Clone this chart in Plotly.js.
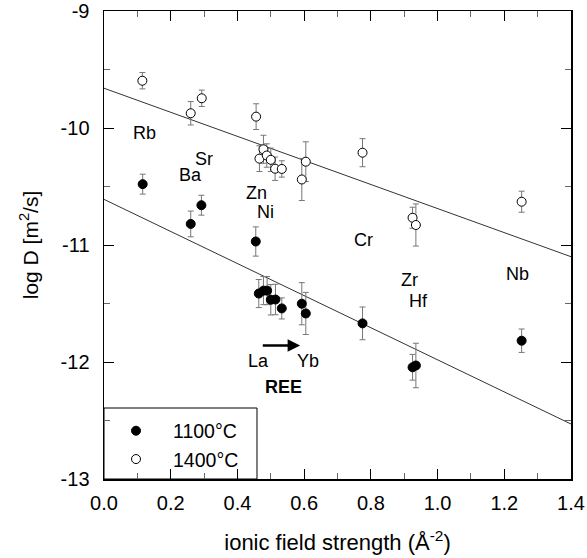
<!DOCTYPE html>
<html>
<head>
<meta charset="utf-8">
<script src="https://cdn.plot.ly/plotly-3.0.1.min.js"></script>
<style>html,body{margin:0;padding:0;background:#fff;}#chart{width:587px;height:558px;}</style>
</head>
<body>
<div id="chart"></div>
<script>
// 1100 °C (filled symbols)
const x1100 = [0.116, 0.260, 0.292, 0.455, 0.464, 0.478, 0.489, 0.500, 0.514, 0.533, 0.593, 0.605, 0.775, 0.925, 0.935, 1.252];
const y1100 = [-10.48, -10.82, -10.66, -10.97, -11.415, -11.39, -11.39, -11.468, -11.466, -11.542, -11.502, -11.585, -11.67, -12.045, -12.03, -11.818];
const e1100 = [0.085, 0.11, 0.085, 0.125, 0.12, 0.12, 0.12, 0.13, 0.13, 0.09, 0.18, 0.18, 0.14, 0.11, 0.19, 0.10];
// 1400 °C (open symbols)
const x1400 = [0.115, 0.260, 0.293, 0.456, 0.466, 0.478, 0.488, 0.500, 0.513, 0.533, 0.593, 0.605, 0.775, 0.925, 0.935, 1.252];
const y1400 = [-9.596, -9.874, -9.746, -9.903, -10.262, -10.182, -10.235, -10.272, -10.348, -10.35, -10.44, -10.288, -10.211, -10.767, -10.829, -10.63];
const e1400 = [0.07, 0.10, 0.07, 0.11, 0.11, 0.12, 0.10, 0.10, 0.10, 0.07, 0.18, 0.17, 0.12, 0.09, 0.18, 0.09];
// regression lines
const fitX = [0, 1.4];
const fit1100 = [-10.61, -12.53];
const fit1400 = [-9.66, -11.10];
// axis ticks
const xTickVals = [0, 0.2, 0.4, 0.6, 0.8, 1.0, 1.2, 1.4];
const xTickText = ['0.0', '0.2', '0.4', '0.6', '0.8', '1.0', '1.2', '1.4'];
const yTickVals = [-13, -12, -11, -10, -9];
const yTickText = ['-13', '-12', '-11', '-10', '-9'];
// element labels
const labelText = ['Rb', 'Sr', 'Ba', 'Zn', 'Ni', 'Cr', 'Zr', 'Hf', 'Nb', 'La', 'Yb'];
const labelX = [0.12, 0.30, 0.26, 0.457, 0.485, 0.779, 0.916, 0.942, 1.24, 0.462, 0.611];
const labelY = [-10.04, -10.265, -10.40, -10.557, -10.718, -10.953, -11.30, -11.476, -11.25, -11.99, -11.99];
const reeText = 'REE';
const reeX = 0.539, reeY = -12.21;
const arrowFrom = [0.470, -11.86];
const arrowTo = [0.588, -11.86];

const FONT = 'Liberation Sans, Arial, sans-serif';

const traces = [
  {x: fitX, y: fit1400, mode: 'lines', line: {color: '#333', width: 1}, showlegend: false, hoverinfo: 'skip'},
  {x: fitX, y: fit1100, mode: 'lines', line: {color: '#333', width: 1}, showlegend: false, hoverinfo: 'skip'},
  {x: x1100, y: y1100, name: '1100°C', mode: 'markers', type: 'scatter',
   marker: {symbol: 'circle', size: 9, color: '#000', line: {color: '#000', width: 1}},
   error_y: {type: 'data', array: e1100, visible: true, color: '#777', thickness: 1, width: 3}},
  {x: x1400, y: y1400, name: '1400°C', mode: 'markers', type: 'scatter',
   marker: {symbol: 'circle', size: 9, color: '#fff', line: {color: '#000', width: 1}},
   error_y: {type: 'data', array: e1400, visible: true, color: '#777', thickness: 1, width: 3}}
];

const annotations = labelText.map((t, i) => ({
  x: labelX[i], y: labelY[i], xref: 'x', yref: 'y', text: t, showarrow: false,
  font: {family: FONT, size: 18, color: '#000'}
}));
annotations.push({x: reeX, y: reeY, xref: 'x', yref: 'y', text: '<b>' + reeText + '</b>', showarrow: false,
  font: {family: FONT, size: 18, color: '#000'}});
annotations.push({x: arrowTo[0], y: arrowTo[1], ax: arrowFrom[0], ay: arrowFrom[1], xref: 'x', yref: 'y',
  axref: 'x', ayref: 'y', text: ' ', showarrow: true, arrowhead: 2, arrowsize: 1, arrowwidth: 2.5, arrowcolor: '#000',
  font: {size: 2}});

const layout = {
  width: 587, height: 558,
  margin: {l: 104, r: 16, t: 11, b: 79},
  paper_bgcolor: '#fff', plot_bgcolor: '#fff',
  font: {family: FONT, size: 20, color: '#000'},
  showlegend: true,
  legend: {x: -0.0107, y: 0.001, xanchor: 'left', yanchor: 'bottom', bgcolor: 'rgba(0,0,0,0)',
    borderwidth: 0, font: {family: FONT, size: 19.5}, itemwidth: 64, tracegroupgap: 0},
  xaxis: {
    range: [0, 1.4], tickmode: 'array', tickvals: xTickVals, ticktext: xTickText,
    ticks: 'inside', ticklen: 10, tickwidth: 1, tickcolor: '#000',
    minor: {dtick: 0.1, tick0: 0, ticks: 'inside', ticklen: 6, tickcolor: '#666', tickwidth: 1},
    showline: true, linecolor: '#000', linewidth: 1.5, mirror: 'allticks',
    showgrid: false, zeroline: false,
    ticklabelstandoff: 5,
    title: {text: 'ionic field strength (Å<sup>-2</sup>)', font: {family: FONT, size: 22}, standoff: 22}
  },
  yaxis: {
    range: [-13, -9], tickmode: 'array', tickvals: yTickVals, ticktext: yTickText,
    ticks: 'inside', ticklen: 10, tickwidth: 1, tickcolor: '#000',
    minor: {dtick: 0.5, tick0: -13, ticks: 'inside', ticklen: 6, tickcolor: '#666', tickwidth: 1},
    showline: true, linecolor: '#000', linewidth: 1.5, mirror: 'allticks',
    showgrid: false, zeroline: false,
    ticklabelstandoff: 9,
    title: {text: 'log D [m<sup>2</sup>/s]', font: {family: FONT, size: 21}, standoff: 16}
  },
  shapes: [
    {type: 'rect', xref: 'paper', yref: 'paper', x0: 0, x1: 0.3276, y0: 0, y1: 0.1517,
     line: {color: '#000', width: 1}, fillcolor: '#fff', layer: 'below'}
  ],
  annotations: annotations
};

Plotly.newPlot('chart', traces, layout, {displayModeBar: false, staticPlot: true});
</script>
</body>
</html>
